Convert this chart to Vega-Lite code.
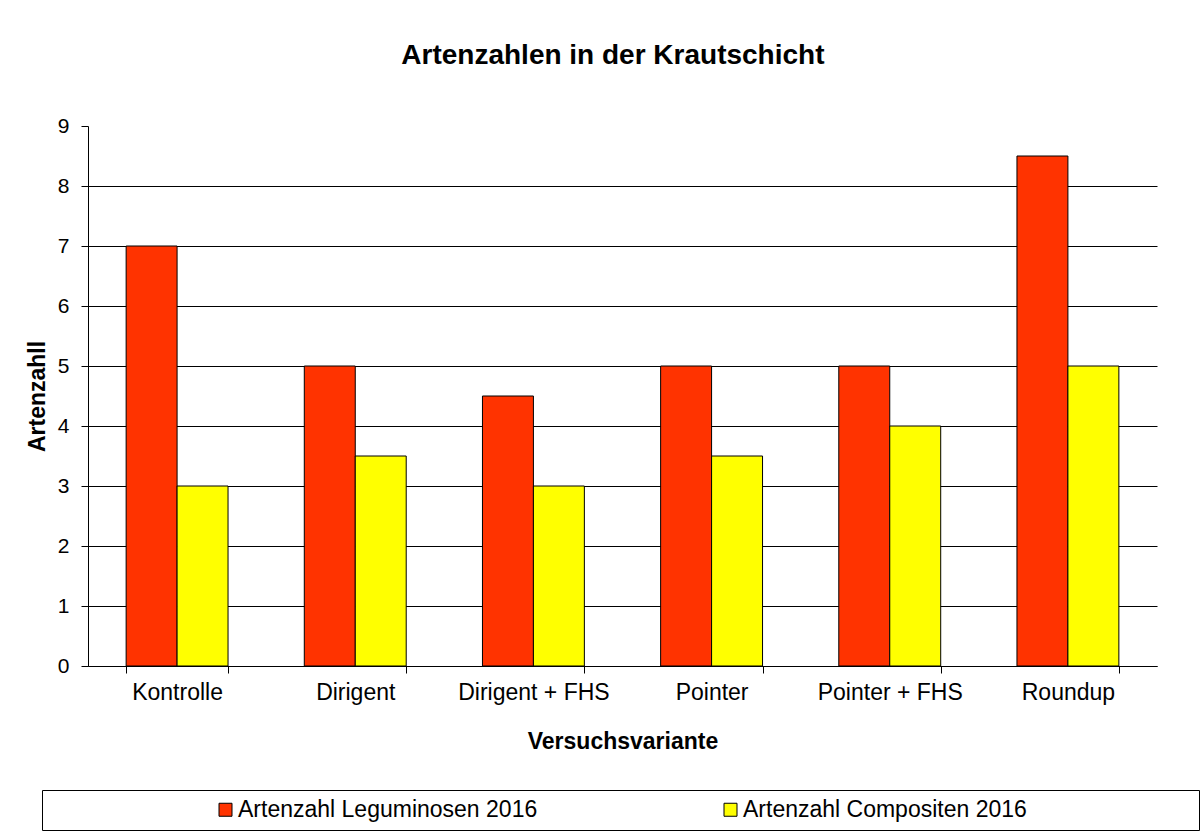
{
  "$schema": "https://vega.github.io/schema/vega-lite/v6.json",
  "padding": {"left": 26, "top": 42, "right": 0, "bottom": 0},
  "background": "white",
  "title": {
    "text": "Artenzahlen in der Krautschicht",
    "font": "Liberation Sans",
    "fontSize": 28,
    "fontWeight": "bold",
    "color": "black",
    "anchor": "middle",
    "frame": "bounds",
    "offset": 45
  },
  "width": 1069,
  "height": 540,
  "data": {
    "values": [
      {"variant": "Kontrolle", "series": "Artenzahl Leguminosen 2016", "count": 7},
      {"variant": "Kontrolle", "series": "Artenzahl Compositen 2016", "count": 3},
      {"variant": "Dirigent", "series": "Artenzahl Leguminosen 2016", "count": 5},
      {"variant": "Dirigent", "series": "Artenzahl Compositen 2016", "count": 3.5},
      {"variant": "Dirigent + FHS", "series": "Artenzahl Leguminosen 2016", "count": 4.5},
      {"variant": "Dirigent + FHS", "series": "Artenzahl Compositen 2016", "count": 3},
      {"variant": "Pointer", "series": "Artenzahl Leguminosen 2016", "count": 5},
      {"variant": "Pointer", "series": "Artenzahl Compositen 2016", "count": 3.5},
      {"variant": "Pointer + FHS", "series": "Artenzahl Leguminosen 2016", "count": 5},
      {"variant": "Pointer + FHS", "series": "Artenzahl Compositen 2016", "count": 4},
      {"variant": "Roundup", "series": "Artenzahl Leguminosen 2016", "count": 8.5},
      {"variant": "Roundup", "series": "Artenzahl Compositen 2016", "count": 5}
    ]
  },
  "mark": {"type": "bar", "stroke": "black", "strokeWidth": 1},
  "encoding": {
    "x": {
      "field": "variant",
      "type": "nominal",
      "sort": ["Kontrolle", "Dirigent", "Dirigent + FHS", "Pointer", "Pointer + FHS", "Roundup"],
      "scale": {"paddingInner": 0.428, "paddingOuter": 0.214},
      "axis": {
        "title": "Versuchsvariante",
        "labelAngle": 0,
        "tickBand": "extent",
        "tickSize": 7,
        "labelPadding": 8,
        "titlePadding": 26,
        "labelFontSize": 23,
        "titleFontSize": 23
      }
    },
    "xOffset": {
      "field": "series",
      "type": "nominal",
      "sort": ["Artenzahl Leguminosen 2016", "Artenzahl Compositen 2016"]
    },
    "y": {
      "field": "count",
      "type": "quantitative",
      "scale": {"domain": [0, 9], "nice": false},
      "axis": {
        "title": "Artenzahll",
        "values": [0, 1, 2, 3, 4, 5, 6, 7, 8, 9],
        "grid": true,
        "gridColor": "black",
        "gridWidth": 1,
        "gridOpacity": {"condition": {"test": "datum.value == 9", "value": 0}, "value": 1},
        "tickSize": 7,
        "labelPadding": 12,
        "titlePadding": 8,
        "labelFontSize": 21,
        "titleFontSize": 23
      }
    },
    "color": {
      "field": "series",
      "type": "nominal",
      "scale": {
        "domain": ["Artenzahl Leguminosen 2016", "Artenzahl Compositen 2016"],
        "range": ["#FF3300", "#FFFF00"]
      },
      "legend": {
        "orient": "none",
        "legendX": -46,
        "legendY": 664,
        "direction": "horizontal",
        "title": "\u00a0",
        "titleOrient": "right",
        "titlePadding": 164,
        "strokeColor": "black",
        "fillColor": "white",
        "padding": 8,
        "symbolType": "square",
        "symbolSize": 169,
        "symbolStrokeColor": "black",
        "symbolStrokeWidth": 1,
        "symbolOpacity": 1,
        "symbolOffset": 164,
        "labelOffset": 1,
        "labelFontSize": 23,
        "labelFont": "Liberation Sans",
        "labelColor": "black",
        "labelLimit": 0,
        "columnPadding": 17
      }
    }
  },
  "config": {
    "font": "Liberation Sans",
    "view": {"stroke": null},
    "axis": {
      "domainColor": "black",
      "domainWidth": 1,
      "tickColor": "black",
      "tickWidth": 1,
      "labelColor": "black",
      "titleColor": "black",
      "labelFont": "Liberation Sans",
      "titleFont": "Liberation Sans",
      "titleFontWeight": "bold"
    }
  }
}
